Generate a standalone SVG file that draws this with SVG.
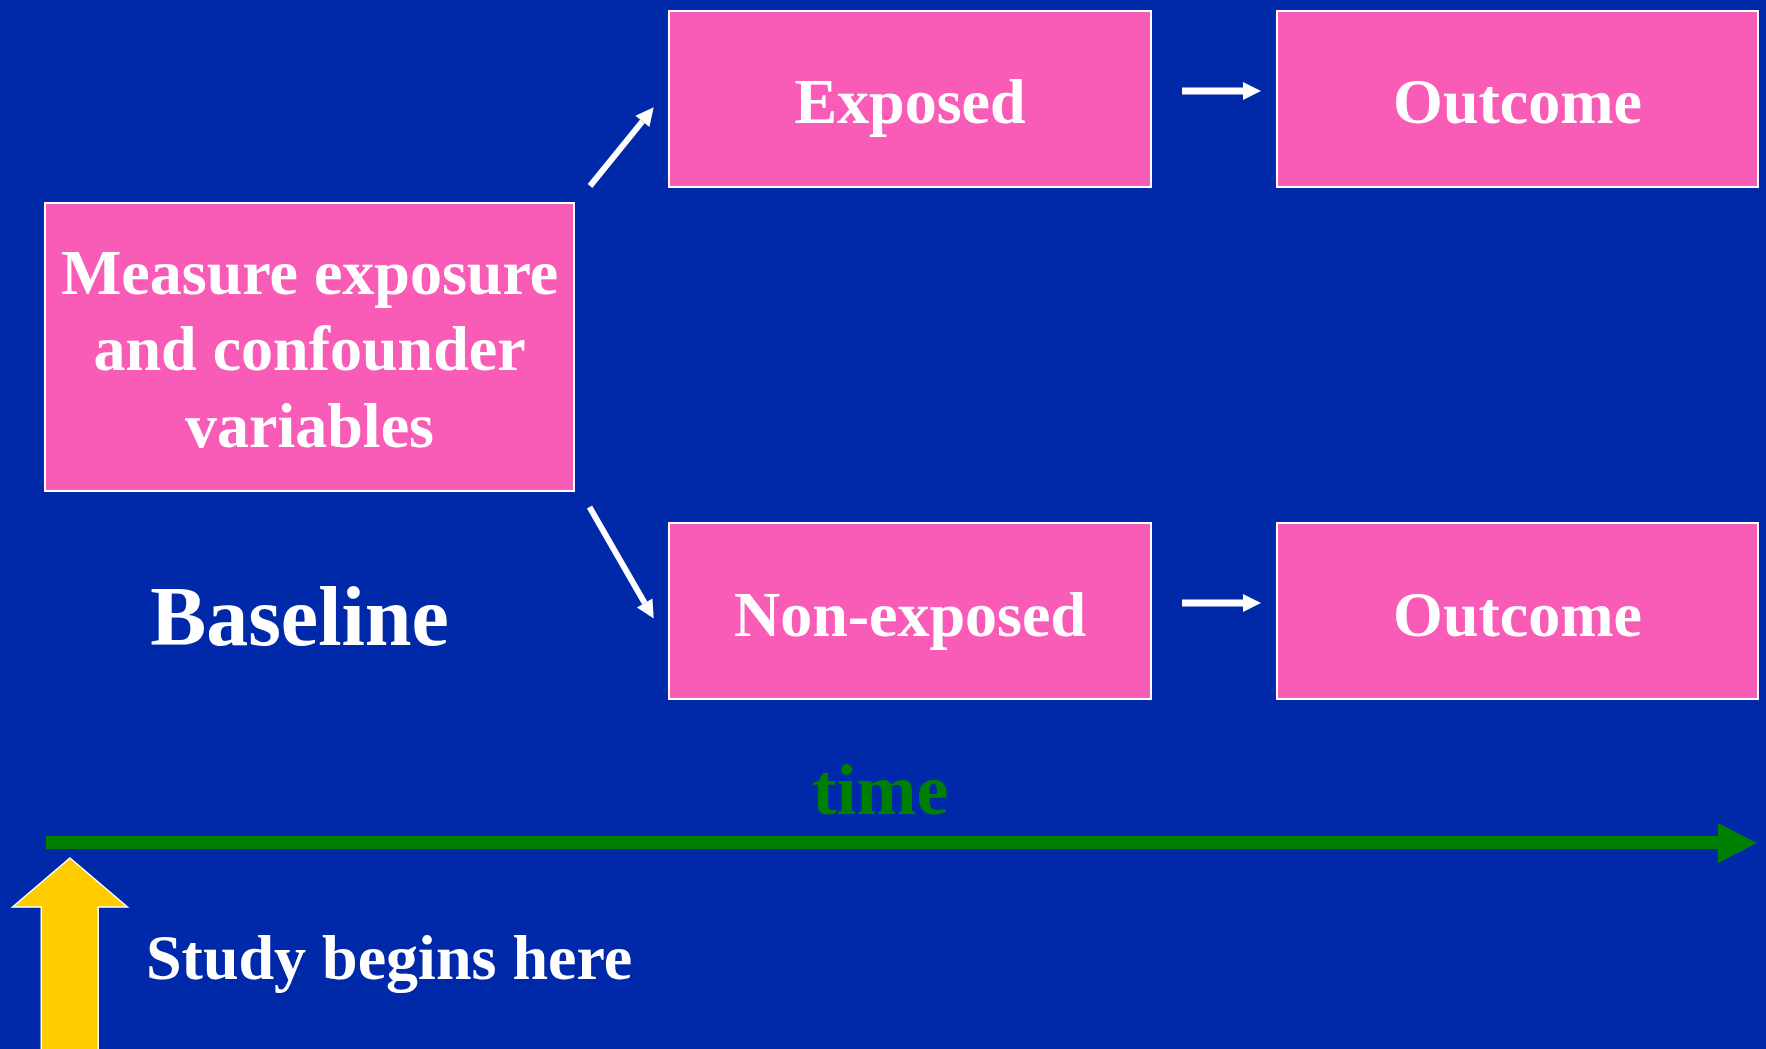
<svg xmlns="http://www.w3.org/2000/svg" width="1766" height="1049" viewBox="0 0 1766 1049">
  <style>
    .box { fill: #F95CB6; stroke: #FFFFFF; stroke-width: 2; }
    .lbl { font-family: "Liberation Serif", "Times New Roman", serif; font-weight: bold; fill: #FFFFFF; font-size: 64px; text-anchor: middle; }
    .conn { stroke: #FFFFFF; stroke-width: 6; fill: none; marker-end: url(#wh); }
  </style>
  <defs>
    <marker id="wh" markerUnits="userSpaceOnUse" markerWidth="20" markerHeight="20" viewBox="0 -10 20 20" refX="0" refY="0" orient="auto" overflow="visible">
      <path d="M0,-9 L18,0 L0,9 Z" fill="#FFFFFF"/>
    </marker>
  </defs>
  <rect x="0" y="0" width="1766" height="1049" fill="#0029AA"/>

  <g id="node-measure">
    <rect class="box" x="45" y="203" width="529" height="288"/>
    <text class="lbl" x="309.5" y="294">Measure exposure</text>
    <text class="lbl" x="309.5" y="370">and confounder</text>
    <text class="lbl" x="309.5" y="447">variables</text>
  </g>
  <g id="node-exposed">
    <rect class="box" x="669" y="11" width="482" height="176"/>
    <text class="lbl" x="910" y="123">Exposed</text>
  </g>
  <g id="node-nonexposed">
    <rect class="box" x="669" y="523" width="482" height="176"/>
    <text class="lbl" x="910" y="636">Non-exposed</text>
  </g>
  <g id="node-outcome1">
    <rect class="box" x="1277" y="11" width="481" height="176"/>
    <text class="lbl" x="1517.5" y="123">Outcome</text>
  </g>
  <g id="node-outcome2">
    <rect class="box" x="1277" y="523" width="481" height="176"/>
    <text class="lbl" x="1517.5" y="636">Outcome</text>
  </g>

  <g id="connectors">
    <line class="conn" x1="590" y1="186" x2="642.4" y2="121.3"/>
    <line class="conn" x1="589.5" y1="507" x2="644.7" y2="602.9"/>
    <line class="conn" x1="1182" y1="91" x2="1243" y2="91" style="stroke-width:7"/>
    <line class="conn" x1="1182" y1="603" x2="1243" y2="603" style="stroke-width:7"/>
  </g>

  <g id="baseline-label">
    <text class="lbl" x="299.5" y="645" style="font-size:84px">Baseline</text>
  </g>

  <g id="timeline">
    <rect x="46" y="836" width="1673" height="13" fill="#008000"/>
    <polygon points="1718,823 1757,843 1718,863" fill="#008000"/>
    <text class="lbl" x="880.5" y="814" style="font-size:72px; fill:#008000">time</text>
  </g>

  <g id="study-start">
    <polygon points="70,858 127.4,907 98.2,907 98.2,1052 41.3,1052 41.3,907 12.6,907" fill="#FFCC00" stroke="#FFFFFF" stroke-width="1.5"/>
    <text class="lbl" x="146" y="979" style="text-anchor:start">Study begins here</text>
  </g>
</svg>
